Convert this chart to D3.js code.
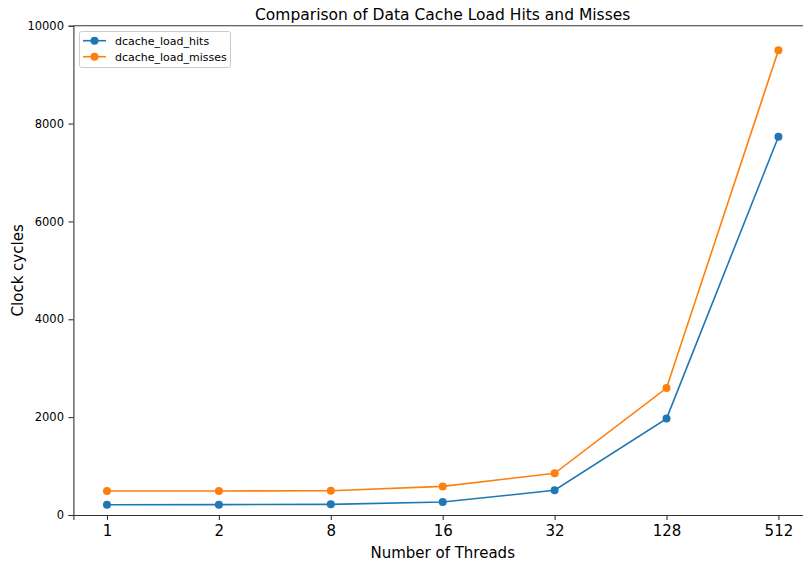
<!DOCTYPE html>
<html>
<head>
<meta charset="utf-8">
<script src="https://cdn.jsdelivr.net/npm/d3@7"></script>
<style>
body { margin: 0; background: #fff; }
text { font-family: "DejaVu Sans", sans-serif; }
</style>
</head>
<body>
<svg width="803" height="565"></svg>
<script>
var threads = ["1", "2", "8", "16", "32", "128", "512"];
var hits = [210, 212, 218, 265, 505, 1970, 7730];
var misses = [490, 490, 497, 585, 852, 2595, 9497];
var yTicks = [0, 2000, 4000, 6000, 8000, 10000];

var svg = d3.select("svg");
var plotL = 73.4, plotR = 812, plotT = 25.7, plotB = 515;

var xScale = d3.scaleLinear().domain([-0.3, threads.length - 0.7]).range([plotL, plotR]);
var yScale = d3.scaleLinear().domain([0, 10000]).range([plotB, plotT]);

// axes
var gx = svg.append("g").attr("transform", "translate(0," + plotB + ")")
  .call(d3.axisBottom(xScale).tickValues(d3.range(threads.length)).tickFormat(function(i) { return threads[i]; }).tickSizeOuter(0).tickSize(4.9).tickPadding(5));
gx.selectAll("text").style("font-size", "15px").attr("fill", "#000");

var gy = svg.append("g").attr("transform", "translate(" + plotL + ",0)")
  .call(d3.axisLeft(yScale).tickValues(yTicks).tickFormat(d3.format("d")).tickSizeOuter(0).tickSize(4.9).tickPadding(4.5));
gy.selectAll("text").style("font-size", "11.5px").attr("fill", "#000");

svg.selectAll(".domain, .tick line").attr("stroke", "#333").attr("stroke-width", 1.1);

// top spine
svg.append("line").attr("x1", plotL).attr("x2", plotR).attr("y1", plotT).attr("y2", plotT)
  .attr("stroke", "#333").attr("stroke-width", 1.1);

var line = d3.line().x(function(d, i) { return xScale(i); }).y(function(d) { return yScale(d); });

function drawSeries(vals, color) {
  svg.append("path").datum(vals).attr("d", line).attr("fill", "none")
    .attr("stroke", color).attr("stroke-width", 1.6);
  svg.append("g").selectAll("circle").data(vals).enter().append("circle")
    .attr("cx", function(d, i) { return xScale(i); })
    .attr("cy", function(d) { return yScale(d); })
    .attr("r", 4).attr("fill", color);
}
drawSeries(hits, "#1f77b4");
drawSeries(misses, "#ff7f0e");

// titles
svg.append("text").attr("x", (plotL + plotR) / 2).attr("y", 19.5).attr("text-anchor", "middle")
  .style("font-size", "15.5px").text("Comparison of Data Cache Load Hits and Misses");
svg.append("text").attr("x", (plotL + plotR) / 2).attr("y", 558).attr("text-anchor", "middle")
  .style("font-size", "15px").text("Number of Threads");
svg.append("text").attr("transform", "translate(23," + ((plotT + plotB) / 2) + ") rotate(-90)")
  .attr("text-anchor", "middle").style("font-size", "15px").text("Clock cycles");

// legend
var legend = svg.append("g");
legend.append("rect").attr("x", 79.5).attr("y", 31.5).attr("width", 151).attr("height", 36)
  .attr("rx", 2).attr("fill", "#fff").attr("stroke", "#ccc").attr("stroke-width", 1);
var names = ["dcache_load_hits", "dcache_load_misses"];
var colors = ["#1f77b4", "#ff7f0e"];
names.forEach(function(n, i) {
  var y = 40.7 + i * 16;
  legend.append("line").attr("x1", 83).attr("x2", 106).attr("y1", y).attr("y2", y)
    .attr("stroke", colors[i]).attr("stroke-width", 1.6);
  legend.append("circle").attr("cx", 94.5).attr("cy", y).attr("r", 4).attr("fill", colors[i]);
  legend.append("text").attr("x", 115).attr("y", y + 4).style("font-size", "11px").text(n);
});
</script>
</body>
</html>
